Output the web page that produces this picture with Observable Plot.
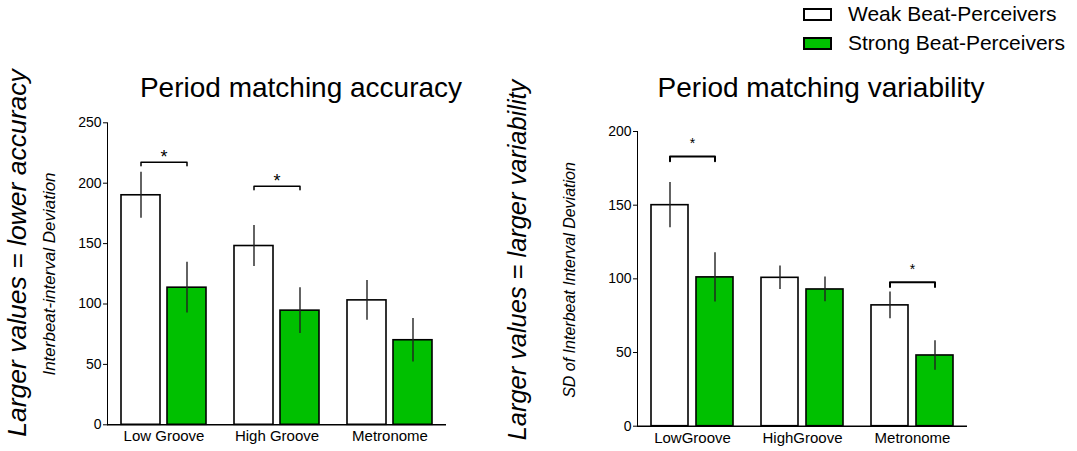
<!DOCTYPE html>
<html><head><meta charset="utf-8">
<script src="https://cdn.jsdelivr.net/npm/d3@7"></script>
<script src="https://cdn.jsdelivr.net/npm/@observablehq/plot@0.6"></script>
<style>
body{margin:0;background:#fff;font-family:"Liberation Sans",Arial,sans-serif;color:#000}
#root{position:relative;width:1077px;height:451px;overflow:hidden;background:#fff}
.panel{position:absolute;top:0}
.rot{position:absolute;white-space:nowrap;transform:translate(-50%,-50%) rotate(-90deg);font-style:italic;line-height:1}
.title{position:absolute;white-space:nowrap;transform:translateX(-50%);font-size:28px;line-height:1}
.legtxt{position:absolute;left:848px;font-size:21px;line-height:24px;white-space:nowrap}
.sw{position:absolute;left:803px;width:29px;height:13px;box-sizing:border-box;border:2px solid #000}
[aria-label^="fx-axis"] text{font-size:15px}
</style>
</head><body>
<div id="root">
  <div class="panel" id="left" style="left:0"></div>
  <div class="panel" id="right" style="left:500px"></div>
  <div class="title" style="left:301px;top:74px">Period matching accuracy</div>
  <div class="title" style="left:821px;top:74px">Period matching variability</div>
  <div class="rot" style="left:16.5px;top:252.5px;font-size:26.5px">Larger values = lower accuracy</div>
  <div class="rot" style="left:48.5px;top:273.5px;font-size:17px">Interbeat-interval Deviation</div>
  <div class="rot" style="left:517.5px;top:260px;font-size:25.4px">Larger values = larger variability</div>
  <div class="rot" style="left:570px;top:280px;font-size:16px">SD of Interbeat Interval Deviation</div>
  <div class="sw" style="top:8px;background:#fff"></div>
  <div class="sw" style="top:37px;background:#00c000"></div>
  <div class="legtxt" style="top:2px">Weak Beat-Perceivers</div>
  <div class="legtxt" style="top:30.5px">Strong Beat-Perceivers</div>
</div>
<script>
// ---- data ----
const groups = ["Weak Beat-Perceivers", "Strong Beat-Perceivers"];
const groupColors = ["#ffffff", "#00c000"];

const accCategories = ["Low Groove", "High Groove", "Metronome"];
const accWeak = [190, 148, 103];
const accWeakErr = [19, 17, 16.5];
const accStrong = [113.5, 94.5, 70];
const accStrongErr = [21, 19, 18];
const accTicks = [0, 50, 100, 150, 200, 250];
const accSig = [{cat: "Low Groove", y: 217.4, star: 225.5}, {cat: "High Groove", y: 197.5, star: 205.5}];

const varCategories = ["LowGroove", "HighGroove", "Metronome"];
const varWeak = [150, 100.7, 82];
const varWeakErr = [15.4, 8, 9];
const varStrong = [101, 92.8, 48];
const varStrongErr = [16.7, 8.4, 10];
const varTicks = [0, 50, 100, 150, 200];
const varSig = [{cat: "LowGroove", y: 183, star: 194.5}, {cat: "Metronome", y: 97.7, star: 109}];

function rows(cats, weak, weakErr, strong, strongErr) {
  const out = [];
  cats.forEach((c, i) => {
    out.push({cat: c, group: groups[0], v: weak[i], e: weakErr[i]});
    out.push({cat: c, group: groups[1], v: strong[i], e: strongErr[i]});
  });
  return out;
}
function bracketPts(sig, drop) {
  const pts = [];
  sig.forEach(s => {
    pts.push({cat: s.cat, group: groups[0], y: s.y - drop});
    pts.push({cat: s.cat, group: groups[0], y: s.y});
    pts.push({cat: s.cat, group: groups[1], y: s.y});
    pts.push({cat: s.cat, group: groups[1], y: s.y - drop});
  });
  return pts;
}

function panel(o) {
  const data = rows(o.cats, o.weak, o.weakErr, o.strong, o.strongErr);
  return Plot.plot({
    width: o.width, height: 451,
    marginLeft: o.ml, marginRight: o.mr, marginTop: o.mt, marginBottom: o.mb,
    style: {fontFamily: "'Liberation Sans', Arial, sans-serif", fontSize: "14px", color: "#000", background: "transparent", overflow: "visible"},
    fx: {domain: o.cats, padding: 0, axis: "bottom", tickSize: 0, tickPadding: 6, label: null},
    x: {domain: groups, axis: null, paddingInner: o.pi, paddingOuter: o.po},
    y: {domain: o.domain, ticks: o.ticks, tickSize: 4, tickPadding: 2, label: null, line: true},
    color: {domain: groups, range: groupColors},
    facet: {data, x: "cat"},
    marks: [
      Plot.barY(data, {x: "group", y: "v", fill: "group", stroke: "#000", strokeWidth: 1.6}),
      Plot.ruleX(data, {x: "group", y1: d => d.v - d.e, y2: d => d.v + d.e, stroke: "#222", strokeWidth: 1.4}),
      Plot.ruleY([0], {stroke: "#000", strokeWidth: 1.4}),
      Plot.line(bracketPts(o.sig, o.drop), {fx: "cat", x: "group", y: "y", z: "cat", stroke: "#000", strokeWidth: o.bw}),
      Plot.text(o.sig, {fx: "cat", y: "star", text: () => "*", fontSize: o.starSize, dy: o.starDy})
    ]
  });
}

document.getElementById("left").appendChild(panel({
  cats: accCategories, weak: accWeak, weakErr: accWeakErr, strong: accStrong, strongErr: accStrongErr,
  width: 500, ml: 106, mr: 53, mt: 122.3, mb: 26.7, pi: 0.158, po: 0.3025,
  domain: [0, 250], ticks: accTicks, sig: accSig, drop: 3, bw: 1.5, starSize: 18, starDy: 5
}));
document.getElementById("right").appendChild(panel({
  cats: varCategories, weak: varWeak, weakErr: varWeakErr, strong: varStrong, strongErr: varStrongErr,
  width: 577, ml: 136, mr: 108.7, mt: 131, mb: 25.3, pi: 0.183, po: 0.2985,
  domain: [0, 200], ticks: varTicks, sig: varSig, drop: 3.2, bw: 2, starSize: 14, starDy: 4
}));
</script>
</body></html>
